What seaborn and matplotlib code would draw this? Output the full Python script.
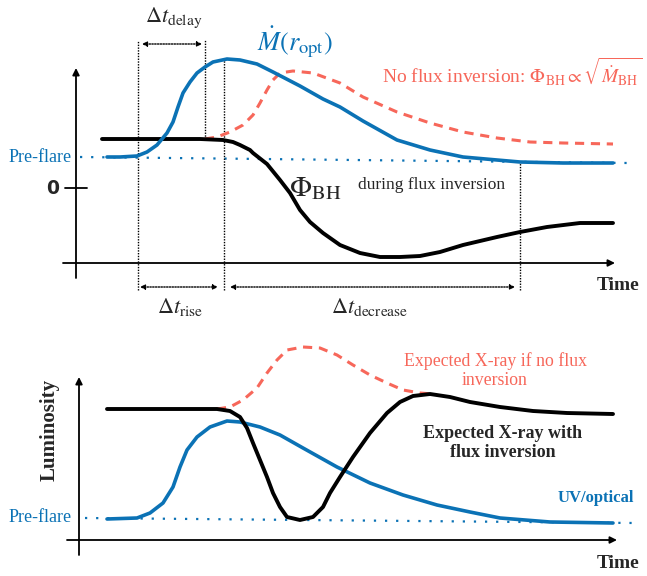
import matplotlib
matplotlib.use("Agg")
import matplotlib.pyplot as plt
import seaborn as sns

BLUE = "#0b72b5"
RED = "#f7675a"

# ---- top panel: time (from y axis) and level (0 = Phi zero line) ----
top_mdot_t = [31, 44, 61, 71, 81, 91, 97, 102, 107, 114, 121, 129, 137, 151, 164, 181, 197, 224,
              247, 264, 287, 321, 354, 387, 421, 444, 487, 537]
top_mdot_v = [31, 31, 32, 36, 43, 55, 66, 81, 95, 106, 115, 121, 126, 129, 128, 124, 116, 102,
              89, 81, 67, 48, 38, 31, 28, 26, 25, 25]

top_phi_t = [26, 74, 124, 147, 157, 164, 174, 177, 191, 204, 214, 224, 234, 247, 264, 284, 304,
             324, 344, 364, 387, 421, 444, 471, 504, 537]
top_phi_v = [49, 49, 49, 48, 46, 43, 38, 35, 24, 8, -5, -22, -34, -45, -57, -65, -69,
             -69, -68, -64, -57, -49, -44, -39, -35, -35]

top_noinv_t = [129, 141, 154, 167, 177, 184, 191, 197, 204, 217, 237, 264, 287, 321, 354, 387,
               421, 454, 487, 537]
top_noinv_v = [49, 51, 56, 63, 73, 85, 98, 108, 115, 117, 115, 105, 91, 76, 65, 56,
               50, 46, 45, 44]

top_pre_t = [4, 552]
top_pre_v = [31, 25]

# ---- bottom panel: time (from y axis) and luminosity (0 = x axis) ----
bot_xray_t = [28, 71, 121, 138, 151, 161, 168, 174, 181, 188, 194, 201, 208, 221, 234, 244, 251,
              261, 274, 291, 308, 321, 334, 351, 371, 391, 421, 454, 488, 534]
bot_xray_v = [131, 131, 131, 131, 129, 123, 112, 97, 80, 63, 47, 33, 23, 20, 23, 33, 47,
              63, 83, 107, 127, 138, 144, 146, 143, 138, 133, 129, 127, 126]

bot_uv_t = [28, 58, 71, 84, 94, 101, 108, 118, 131, 148, 161, 181, 201, 224, 258, 291, 324, 358,
            391, 421, 471, 534]
bot_uv_v = [21, 22, 27, 37, 53, 73, 90, 103, 113, 119, 118, 113, 105, 92, 73, 57, 45, 35,
            28, 22, 18, 17]

bot_noinv_t = [138, 151, 164, 178, 188, 198, 208, 224, 241, 258, 274, 291, 308, 324, 341, 354]
bot_noinv_v = [131, 133, 140, 152, 167, 180, 190, 193, 192, 185, 175, 165, 157, 150, 147, 146]

bot_pre_t = [6, 556]
bot_pre_v = [22, 17]

sns.set_style("white")
plt.rcParams["font.family"] = ["Liberation Serif", "DejaVu Serif"]
plt.rcParams["mathtext.fontset"] = "stix"
plt.rcParams["lines.solid_joinstyle"] = "round"
plt.rcParams["lines.solid_capstyle"] = "round"

fig = plt.figure(figsize=(6.47, 5.76), dpi=100)
ax1 = fig.add_axes([0, 246 / 576, 1, 330 / 576])
ax2 = fig.add_axes([0, 0, 1, 246 / 576])
ax1.set_xlim(-76, 571)
ax1.set_ylim(-142, 188)
ax2.set_xlim(-79, 568)
ax2.set_ylim(-36, 210)
for ax in (ax1, ax2):
    ax.axis("off")


def axis_arrow(ax, start, end):
    ax.annotate("", xy=end, xytext=start,
                arrowprops=dict(arrowstyle="-|>", color="k", lw=1.3, mutation_scale=10,
                                shrinkA=0, shrinkB=0))


def span_arrow(ax, x0, x1, y):
    ax.annotate("", xy=(x1, y), xytext=(x0, y),
                arrowprops=dict(arrowstyle="<|-|>", color="k", lw=1, linestyle=(0, (1, 1)),
                                mutation_scale=7, shrinkA=0, shrinkB=0))


# top panel
axis_arrow(ax1, (0, -90), (0, 120))
axis_arrow(ax1, (-13, -75), (539, -75))
ax1.plot([-11, 11], [0, 0], color="k", lw=1.3)
ax1.plot(top_pre_t, top_pre_v, color=BLUE, lw=1.6, linestyle=(0, (1, 4)))
for t, v0, v1 in [(62, -102, 148), (129, 49, 148), (148, -102, 130), (444, -102, 25)]:
    ax1.plot([t, t], [v0, v1], color="k", lw=1, linestyle=(0, (1, 1)))
sns.lineplot(x=top_noinv_t, y=top_noinv_v, ax=ax1, color=RED, lw=2.2, linestyle=(0, (3, 2.2)))
sns.lineplot(x=top_phi_t, y=top_phi_v, ax=ax1, color="k", lw=2.8)
sns.lineplot(x=top_mdot_t, y=top_mdot_v, ax=ax1, color=BLUE, lw=2.6)

span_arrow(ax1, 66, 126, 144)
span_arrow(ax1, 64, 142, -99)
span_arrow(ax1, 154, 439, -99)

ax1.text(-23, 0, "0", fontsize=13.5, fontweight="bold", family="DejaVu Sans", ha="center", va="center")
ax1.text(-4, 31, "Pre-flare", fontsize=13, color=BLUE, ha="right", va="center")
ax1.text(542, -97, "Time", fontsize=14, fontweight="bold", ha="center", va="center")
ax1.text(98, 170, r"$\Delta t_{\rm delay}$", fontsize=16, ha="center", va="center")
ax1.text(219, 146, r"$\dot{M}(r_{\rm opt})$", fontsize=19, color=BLUE, ha="center", va="center")
ax1.text(436, 116, r"No flux inversion: $\Phi_{\rm BH} \propto \sqrt{\dot{M}_{\rm BH}}$",
         fontsize=14, color=RED, ha="center", va="center")
ax1.text(213, -1, r"$\Phi_{\rm BH}$", fontsize=21, ha="left", va="center")
ax1.text(282, 3, "during flux inversion", fontsize=12.5, ha="left", va="center")
ax1.text(104, -119, r"$\Delta t_{\rm rise}$", fontsize=16, ha="center", va="center")
ax1.text(294, -119, r"$\Delta t_{\rm decrease}$", fontsize=16, ha="center", va="center")

# bottom panel
axis_arrow(ax2, (0, -15), (0, 163))
axis_arrow(ax2, (-12, 0), (538, 0))
ax2.plot(bot_pre_t, bot_pre_v, color=BLUE, lw=1.6, linestyle=(0, (1, 4)))
sns.lineplot(x=bot_noinv_t, y=bot_noinv_v, ax=ax2, color=RED, lw=2.2, linestyle=(0, (3, 2.2)))
sns.lineplot(x=bot_uv_t, y=bot_uv_v, ax=ax2, color=BLUE, lw=2.6)
sns.lineplot(x=bot_xray_t, y=bot_xray_v, ax=ax2, color="k", lw=2.8)

ax2.text(-7, 22, "Pre-flare", fontsize=13, color=BLUE, ha="right", va="center")
ax2.text(-29, 110, "Luminosity", fontsize=15, fontweight="bold", rotation=90, ha="center", va="center")
ax2.text(517, 42, "UV/optical", fontsize=12, fontweight="bold", color=BLUE, ha="center", va="center")
ax2.text(424, 97, "Expected X-ray with\nflux inversion", fontsize=13, fontweight="bold",
         ha="center", va="center", linespacing=1.15)
ax2.text(416, 169, "Expected X-ray if no flux\ninversion", fontsize=12.8, color=RED,
         ha="center", va="center", linespacing=1.15)
ax2.text(539, -23, "Time", fontsize=14, fontweight="bold", ha="center", va="center")

fig.savefig("out.png", dpi=100)
